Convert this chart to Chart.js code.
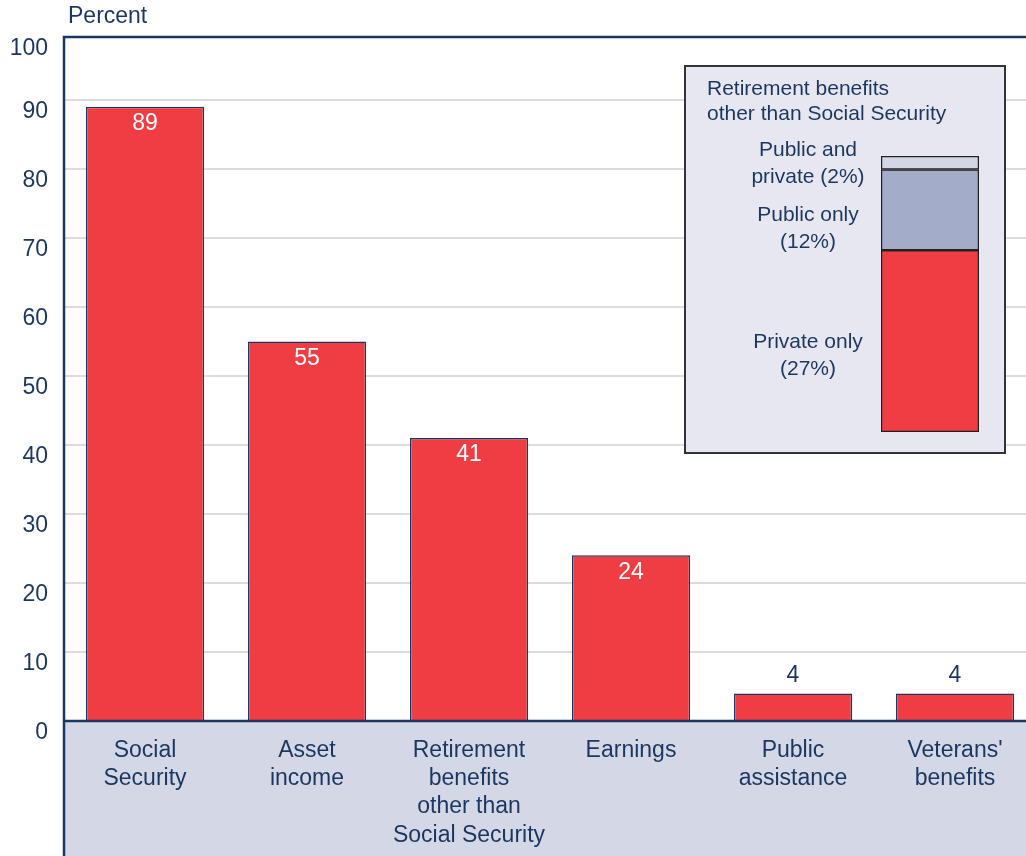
<!DOCTYPE html>
<html>
<head>
<meta charset="utf-8">
<script src="https://cdn.jsdelivr.net/npm/chart.js@4.4.1/dist/chart.umd.min.js"></script>
<style>
  html, body { margin: 0; padding: 0; background: #fff; overflow: hidden; }
  #wrap { position: relative; width: 1026px; height: 856px; overflow: hidden; }
  #main { position: absolute; left: 0; top: 0; }
  #insetBox {
    position: absolute; left: 684px; top: 65px; width: 322px; height: 389px;
    box-sizing: border-box; border: 2px solid #333; background: #e6e7f1;
  }
  #inset { position: absolute; left: 0; top: 0; }
</style>
</head>
<body>
<div id="wrap">
  <canvas id="main" width="1040" height="856"></canvas>
  <div id="insetBox"><canvas id="inset" width="318" height="385"></canvas></div>
</div>
<script>
// datos del gráfico principal
const categories = [
  ['Social', 'Security'],
  ['Asset', 'income'],
  ['Retirement', 'benefits', 'other than', 'Social Security'],
  ['Earnings'],
  ['Public', 'assistance'],
  ["Veterans'", 'benefits']
];
const percents = [89, 55, 41, 24, 4, 4];
const yTicks = [0, 10, 20, 30, 40, 50, 60, 70, 80, 90, 100];
const yAxisTitle = 'Percent';

// datos del recuadro
const insetTitle = ['Retirement benefits', 'other than Social Security'];
const insetLabels = [['Private only', '(27%)'], ['Public only', '(12%)'], ['Public and', 'private (2%)']];
const insetValues = [27, 12, 2];

const NAVY = '#1b365f';
const RED = '#ef3d43';
const FONT = '"Liberation Sans", Arial, sans-serif';
const TOP_VAL = 99.1; // el marco superior queda un poco por debajo de 100

// fondo lavanda bajo el eje X, marco superior, etiquetas de valores
const mainDecor = {
  id: 'mainDecor',
  beforeDraw(chart) {
    const { ctx, chartArea } = chart;
    ctx.save();
    ctx.fillStyle = '#d4d7e6';
    ctx.fillRect(chartArea.left, chartArea.bottom, chart.width - chartArea.left, chart.height - chartArea.bottom);
    ctx.restore();
  },
  afterDraw(chart) {
    const { ctx, chartArea } = chart;
    ctx.save();
    ctx.strokeStyle = NAVY;
    ctx.lineWidth = 2.5;
    ctx.beginPath();
    ctx.moveTo(chartArea.left, chart.height);
    ctx.lineTo(chartArea.left, chartArea.top);
    ctx.lineTo(chart.width, chartArea.top);
    ctx.moveTo(chartArea.left, chartArea.bottom);
    ctx.lineTo(chart.width, chartArea.bottom);
    ctx.stroke();

    // título del eje Y
    ctx.fillStyle = NAVY;
    ctx.font = '23px ' + FONT;
    ctx.textAlign = 'left';
    ctx.textBaseline = 'middle';
    ctx.fillText(yAxisTitle, 68, 17);

    // etiquetas de valores
    const meta = chart.getDatasetMeta(0);
    ctx.textAlign = 'center';
    meta.data.forEach((bar, i) => {
      const v = percents[i];
      if (v >= 10) {
        ctx.fillStyle = '#fff';
        ctx.fillText(String(v), bar.x, bar.y + 17);
      } else {
        ctx.fillStyle = NAVY;
        ctx.fillText(String(v), bar.x, bar.y - 18);
      }
    });
    ctx.restore();
  }
};

new Chart(document.getElementById('main').getContext('2d'), {
  type: 'bar',
  data: {
    labels: categories,
    datasets: [{
      data: percents,
      backgroundColor: RED,
      borderColor: NAVY,
      borderWidth: 1.5,
      barPercentage: 0.73,
      categoryPercentage: 1
    }]
  },
  options: {
    responsive: false,
    animation: false,
    layout: { padding: { top: 37, right: 4, left: 0, bottom: 0 } },
    plugins: { legend: { display: false }, tooltip: { enabled: false } },
    scales: {
      x: {
        grid: { display: false },
        border: { display: false },
        ticks: {
          color: NAVY,
          font: { family: FONT, size: 23, lineHeight: 1.22 },
          padding: 8,
          maxRotation: 0,
          autoSkip: false
        },
        afterFit(scale) { scale.height = 135; }
      },
      y: {
        min: 0,
        max: TOP_VAL,
        afterBuildTicks(scale) {
          scale.ticks = yTicks.map(v => ({ value: Math.min(v, TOP_VAL), label: String(v) }));
        },
        afterFit(scale) { scale.width = 64; },
        grid: {
          color: '#dcdcdc',
          lineWidth: 2,
          drawTicks: false
        },
        border: { display: false },
        ticks: {
          color: NAVY,
          font: { family: FONT, size: 23 },
          padding: 16,
          labelOffset: 12,
          callback(value, index) { return String(yTicks[index]); }
        }
      }
    }
  },
  plugins: [mainDecor]
});

// RECUADRO

const insetSegColors = [RED, '#a3adc9', '#d3d6e4'];
const insetDy = [15, 19, 1];

const insetDecor = {
  id: 'insetDecor',
  afterDraw(chart) {
    const { ctx } = chart;
    ctx.save();
    ctx.fillStyle = NAVY;
    ctx.font = '21px ' + FONT;
    ctx.textBaseline = 'middle';
    ctx.textAlign = 'left';
    insetTitle.forEach((t, i) => ctx.fillText(t, 21, 22 + i * 25));

    ctx.textAlign = 'center';
    chart.data.datasets.forEach((ds, di) => {
      const bar = chart.getDatasetMeta(di).data[0];
      const cx = bar.x - bar.width / 2 - 73;
      const cy = (bar.y + bar.base) / 2 + insetDy[di];
      const lines = insetLabels[di];
      lines.forEach((l, li) => {
        ctx.fillText(l, cx, cy + (li - (lines.length - 1) / 2) * 27);
      });
    });
    ctx.restore();
  }
};

new Chart(document.getElementById('inset').getContext('2d'), {
  type: 'bar',
  data: {
    labels: [''],
    datasets: insetValues.map((v, i) => ({
      data: [v],
      backgroundColor: insetSegColors[i],
      borderColor: '#222',
      borderWidth: 1.6,
      borderSkipped: false,
      barPercentage: 1,
      categoryPercentage: 1
    }))
  },
  options: {
    responsive: false,
    animation: false,
    layout: { padding: { left: 195, right: 25, top: 89, bottom: 20 } },
    plugins: { legend: { display: false }, tooltip: { enabled: false } },
    scales: {
      x: { stacked: true, display: false },
      y: { stacked: true, display: false, min: 0, max: 41 }
    }
  },
  plugins: [insetDecor]
});
</script>
</body>
</html>
